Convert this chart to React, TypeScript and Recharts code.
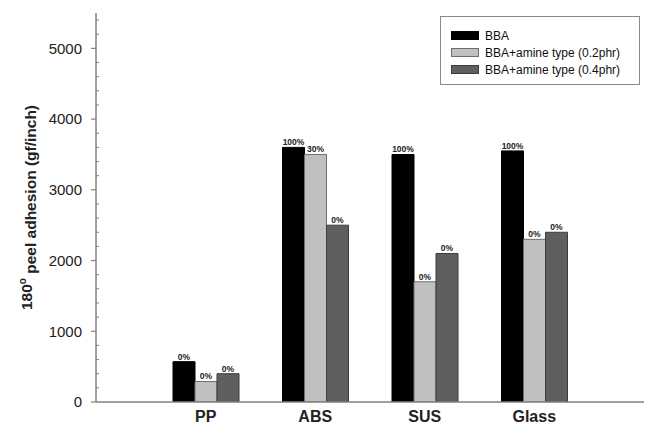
import React from "react";
import { BarChart, Bar, XAxis, YAxis, Legend, LabelList } from "recharts";

const categories = ["PP", "ABS", "SUS", "Glass"];
const bbaValues = [570, 3600, 3500, 3550];
const amine02Values = [290, 3500, 1700, 2300];
const amine04Values = [400, 2500, 2100, 2400];
const bbaLabels = ["0%", "100%", "100%", "100%"];
const amine02Labels = ["0%", "30%", "0%", "0%"];
const amine04Labels = ["0%", "0%", "0%", "0%"];
const yTicks = [
  0, 200, 400, 600, 800, 1000, 1200, 1400, 1600, 1800, 2000, 2200, 2400, 2600,
  2800, 3000, 3200, 3400, 3600, 3800, 4000, 4200, 4400, 4600, 4800, 5000, 5200, 5400,
];

const SERIES = [
  { key: "bba", name: "BBA", fill: "#000000", stroke: "#000000" },
  { key: "a02", name: "BBA+amine type (0.2phr)", fill: "#c0c0c0", stroke: "#6e6e6e" },
  { key: "a04", name: "BBA+amine type (0.4phr)", fill: "#5f5f5f", stroke: "#3c3c3c" },
];

const FONT = "Arial, 'Liberation Sans', sans-serif";
const AXIS = "#808080";

const data = categories.map((name, i) => ({
  name,
  bba: bbaValues[i],
  a02: amine02Values[i],
  a04: amine04Values[i],
  bbaLabel: bbaLabels[i],
  a02Label: amine02Labels[i],
  a04Label: amine04Labels[i],
}));

function YTick(props: any) {
  const { x, y, payload } = props;
  const major = payload.value % 1000 === 0;
  if (!major) {
    return <line x1={x} x2={x + 3} y1={y} y2={y} stroke={AXIS} strokeWidth={1} />;
  }
  return (
    <g>
      <line x1={x - 5} x2={x} y1={y} y2={y} stroke={AXIS} strokeWidth={1.2} />
      <text x={x - 14} y={y} dy="0.35em" textAnchor="end" fontSize={15} fontFamily={FONT} fill="#222">
        {payload.value}
      </text>
    </g>
  );
}

function XTick(props: any) {
  const { x, y, payload } = props;
  return (
    <text x={x} y={y + 20} textAnchor="middle" fontSize={16} fontWeight="bold" fontFamily={FONT} fill="#222">
      {payload.value}
    </text>
  );
}

function BarTopLabel(props: any) {
  const { x, y, width, value } = props;
  return (
    <text
      x={x + width / 2}
      y={y - 2}
      textAnchor="middle"
      fontSize={8.5}
      fontWeight="bold"
      fontFamily={FONT}
      fill="#222"
    >
      {value}
    </text>
  );
}

function YLabel(props: any) {
  const { viewBox } = props;
  const cx = 27;
  const cy = viewBox.y + viewBox.height / 2;
  return (
    <text
      x={cx}
      y={cy}
      transform={`rotate(-90 ${cx} ${cy})`}
      textAnchor="middle"
      dy="0.35em"
      fontSize={15.5}
      fontWeight="bold"
      fontFamily={FONT}
      fill="#222"
    >
      180
      <tspan fontSize={10} dy="-0.6em">o</tspan>
      <tspan dy="0.6em"> peel adhesion (gf/inch)</tspan>
    </text>
  );
}

function LegendBox() {
  return (
    <div
      style={{
        width: 200,
        height: 69,
        border: "1px solid #8a8a8a",
        boxSizing: "border-box",
        padding: "10px 0 0 10px",
        fontFamily: FONT,
        fontSize: 12,
        color: "#111",
        background: "#fff",
      }}
    >
      {SERIES.map((s) => (
        <div key={s.key} style={{ display: "flex", alignItems: "center", height: 17 }}>
          <span
            style={{
              display: "inline-block",
              width: 28,
              height: 9,
              background: s.fill,
              border: `1px solid ${s.stroke}`,
              boxSizing: "border-box",
              marginRight: 6,
            }}
          />
          <span>{s.name}</span>
        </div>
      ))}
    </div>
  );
}

export default function App() {
  return (
    <div style={{ position: "absolute", left: 0, top: 0, width: 648, height: 426, background: "#fff" }}>
      <BarChart
        width={648}
        height={426}
        data={data}
        margin={{ top: 13, right: 4, bottom: 0, left: 36 }}
        barGap={0}
        barSize={22}
      >
        <XAxis
          dataKey="name"
          interval={0}
          padding={{ left: 55, right: 55 }}
          axisLine={{ stroke: AXIS, strokeWidth: 1.5 }}
          tickLine={false}
          tickSize={0}
          tickMargin={0}
          tick={<XTick />}
          height={24}
        />
        <XAxis
          xAxisId="top"
          orientation="top"
          dataKey="name"
          tick={false}
          tickLine={false}
          axisLine={{ stroke: AXIS, strokeWidth: 1.5 }}
          height={0}
        />
        <YAxis
          domain={[0, 5500]}
          ticks={yTicks}
          interval={0}
          allowDataOverflow
          axisLine={{ stroke: AXIS, strokeWidth: 1.5 }}
          tickLine={false}
          tickSize={0}
          tickMargin={0}
          tick={<YTick />}
          width={60}
          label={{ content: <YLabel /> }}
        />
        <YAxis
          yAxisId="right"
          orientation="right"
          domain={[0, 5500]}
          tick={false}
          tickLine={false}
          axisLine={{ stroke: AXIS, strokeWidth: 1.5 }}
          width={0}
        />
        <Legend
          layout="horizontal"
          align="center"
          verticalAlign="middle"
          content={<LegendBox />}
          wrapperStyle={{ left: 440, top: 16, width: 200, height: 69 }}
        />
        {SERIES.map((s) => (
          <Bar
            key={s.key}
            dataKey={s.key}
            name={s.name}
            fill={s.fill}
            stroke={s.stroke}
            strokeWidth={1}
            isAnimationActive={false}
          >
            <LabelList dataKey={`${s.key}Label`} content={<BarTopLabel />} />
          </Bar>
        ))}
      </BarChart>
    </div>
  );
}
